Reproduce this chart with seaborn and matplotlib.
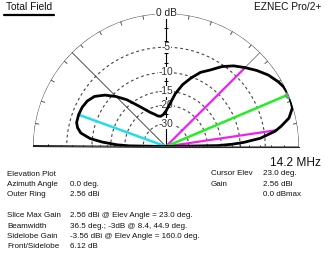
import numpy as np
import matplotlib
matplotlib.use("Agg")
import matplotlib.pyplot as plt
from matplotlib.lines import Line2D
import seaborn as sns

# ---------------- data ----------------
outer_ring_dbi = 2.56
elev_deg = [0, 1, 2, 3, 5, 8, 10, 13, 17, 20, 23, 27, 30, 35, 40, 45, 50, 55, 60,
            65, 70, 75, 80, 85, 90, 95, 100, 105, 110, 115, 120, 125, 130, 135,
            140, 145, 150, 155, 160, 165, 168, 171, 174, 176, 178, 179, 180]
gain_rel_db = [-99, -16, -11.8, -9.2, -5.8, -3.2, -2.2, -0.9, -0.1, -0.02, 0, -0.15,
               -0.45, -1.1, -2.0, -3.0, -4.0, -5.3, -7.0, -8.3, -10.3, -12.5, -15.5,
               -19.5, -22.5, -24.3, -25, -24.5, -23, -21.5, -19.2, -16.5, -13.3,
               -10.8, -8.7, -7.2, -6.5, -6.2, -6.12, -6.2, -6.6, -7.4, -9.5, -12.5,
               -17, -22, -99]
ring_db = [-5, -10, -15, -20, -30]
ring_labels = ["-5", "-10", "-15", "-20", "-30"]
cursor_elev = 23.0
cursor_gain_rel = 0.0
bw_angles = [8.4, 44.9]
bw_gain_rel = -3.0
sidelobe_elev = 160.0
sidelobe_gain_rel = -6.12

left_labels = ["Elevation Plot", "Azimuth Angle", "Outer Ring", "",
               "Slice Max Gain", "Beamwidth", "Sidelobe Gain", "Front/Sidelobe"]
left_values = ["", "0.0 deg.", "2.56 dBi", "",
               "2.56 dBi @ Elev Angle = 23.0 deg.",
               "36.5 deg.; -3dB @ 8.4, 44.9 deg.",
               "-3.56 dBi @ Elev Angle = 160.0 deg.",
               "6.12 dB"]
right_labels = ["Cursor Elev", "Gain", ""]
right_values = ["23.0 deg.", "2.56 dBi", "0.0 dBmax"]

# ---------------- style ----------------
sns.set_style("white")
plt.rcParams["font.family"] = ["Liberation Sans", "DejaVu Sans"]

W, H = 332, 280
fig = plt.figure(figsize=(W / 100, H / 100), dpi=100)
fig.patch.set_facecolor("white")

def fx(x):
    return x / W

def fy(y):
    return 1 - y / H

# half-disk of radius R centred (vertically) in a square box of side 2R
cx, cy, R = 166, 146.5, 133
box_cy = cy - R / 2
ax = fig.add_axes([fx(cx - R), fy(box_cy + R), 2 * R / W, 2 * R / H],
                  projection="polar")
ax.set_thetamin(0)
ax.set_thetamax(180)

# ARRL log scale: r = 0.89 ** (-dB/2)
def fwd(d):
    d = np.asarray(d, dtype=float)
    return 0.89 ** (-d / 2.0)

def inv(r):
    r = np.clip(np.asarray(r, dtype=float), 1e-12, None)
    return -2.0 * np.log(r) / np.log(0.89)

ax.set_yscale("function", functions=(fwd, inv))
ax.grid(False)
ax.set_xticks([])
ax.set_yticks([])
for s in ax.spines.values():
    s.set_visible(False)
ax.patch.set_alpha(0)

NULL = -99
full = np.linspace(0, np.pi, 361)

# outer ring
ax.plot(full, np.zeros_like(full), color="#555555", lw=0.8, zorder=1)
# dashed rings
for d in ring_db:
    ax.plot(full, np.full_like(full, d), color="#444444", lw=0.8,
            ls=(0, (2.5, 2.5)), zorder=1)
# outer-ring ticks
for t in range(10, 180, 10):
    th = np.deg2rad(t)
    ax.plot([th, th], [0, -0.5], color="#555555", lw=0.7, zorder=1)

# radial lines
ax.plot([0, 0], [NULL, 0], color="black", lw=1.3, zorder=2)
ax.plot([np.pi, np.pi], [NULL, 0], color="black", lw=1.3, zorder=2)
ax.plot([np.pi / 2, np.pi / 2], [NULL, 0], color="black", lw=0.8, zorder=2)
ax.plot([np.deg2rad(135)] * 2, [NULL, 0], color="#333333", lw=0.6, zorder=2)
ax.plot([np.deg2rad(45)] * 2, [NULL, 0], color="#777777", lw=0.6, zorder=2)

# axis ticks
tick_db = list(range(-2, -31, -2))
ax.plot(np.zeros(len(tick_db)), tick_db, ls="none", marker="|", ms=3,
        mew=0.7, color="black", zorder=2)
ax.plot(np.full(len(tick_db), np.pi), tick_db, ls="none", marker="|", ms=3,
        mew=0.7, color="black", zorder=2)
ax.plot(np.full(len(tick_db), np.pi / 2), tick_db, ls="none", marker="_", ms=3,
        mew=0.7, color="black", zorder=2)

# ring labels
ax.text(np.pi / 2, 0, "0 dB", ha="center", va="center", fontsize=7.3,
        color="#222222", zorder=6,
        bbox=dict(facecolor="white", edgecolor="none", pad=0.6))
for d, lab in zip(ring_db, ring_labels):
    ax.text(np.pi / 2, d, lab, ha="center", va="center", fontsize=7.3,
            color="#333333", zorder=3,
            bbox=dict(facecolor="white", edgecolor="none", pad=0.2))

# pattern
theta = np.deg2rad(elev_deg)
sns.lineplot(x=theta, y=gain_rel_db, ax=ax, sort=False, estimator=None,
             color="black", lw=2.0, zorder=5)

# annotation lines
ax.plot([np.deg2rad(sidelobe_elev)] * 2, [NULL, sidelobe_gain_rel],
        color="#22ddee", lw=1.8, zorder=4)
for a in bw_angles:
    ax.plot([np.deg2rad(a)] * 2, [NULL, bw_gain_rel], color="#ee22ee", lw=1.6,
            zorder=4)
ax.plot([np.deg2rad(cursor_elev)] * 2, [NULL, cursor_gain_rel],
        color="#22ee22", lw=1.8, zorder=4)
ax.plot([np.deg2rad(cursor_elev)], [cursor_gain_rel], marker="o", ms=4,
        mfc="#cc66ee", mec="#22cc22", mew=1, zorder=7)

ax.set_ylim(NULL, 0)
ax.set_xlim(0, np.pi)

# ---------------- header / footer text ----------------
fig.text(fx(6), fy(7.5), "Total Field", ha="left", va="center", fontsize=7.3,
         color="#111111")
fig.add_artist(Line2D([fx(4), fx(54)], [fy(14.5), fy(14.5)], color="black",
                      lw=1.6, transform=fig.transFigure))
fig.text(fx(321), fy(7.5), "EZNEC Pro/2+", ha="right", va="center",
         fontsize=7.3, color="#111111")
fig.text(fx(321), fy(162.5), "14.2 MHz", ha="right", va="center", fontsize=8.6,
         color="#111111")

left_y = [174, 184.5, 195, 205, 215.5, 226, 236.5, 247]
for y, lab, val in zip(left_y, left_labels, left_values):
    if lab:
        fig.text(fx(7), fy(y), lab, ha="left", va="center", fontsize=5.8,
                 color="#111111")
    if val:
        fig.text(fx(70), fy(y), val, ha="left", va="center", fontsize=5.8,
                 color="#111111")

right_y = [173.5, 184, 194.5]
for y, lab, val in zip(right_y, right_labels, right_values):
    if lab:
        fig.text(fx(211), fy(y), lab, ha="left", va="center", fontsize=5.8,
                 color="#111111")
    if val:
        fig.text(fx(263), fy(y), val, ha="left", va="center", fontsize=5.8,
                 color="#111111")

fig.savefig("out.png", dpi=100, facecolor="white")
